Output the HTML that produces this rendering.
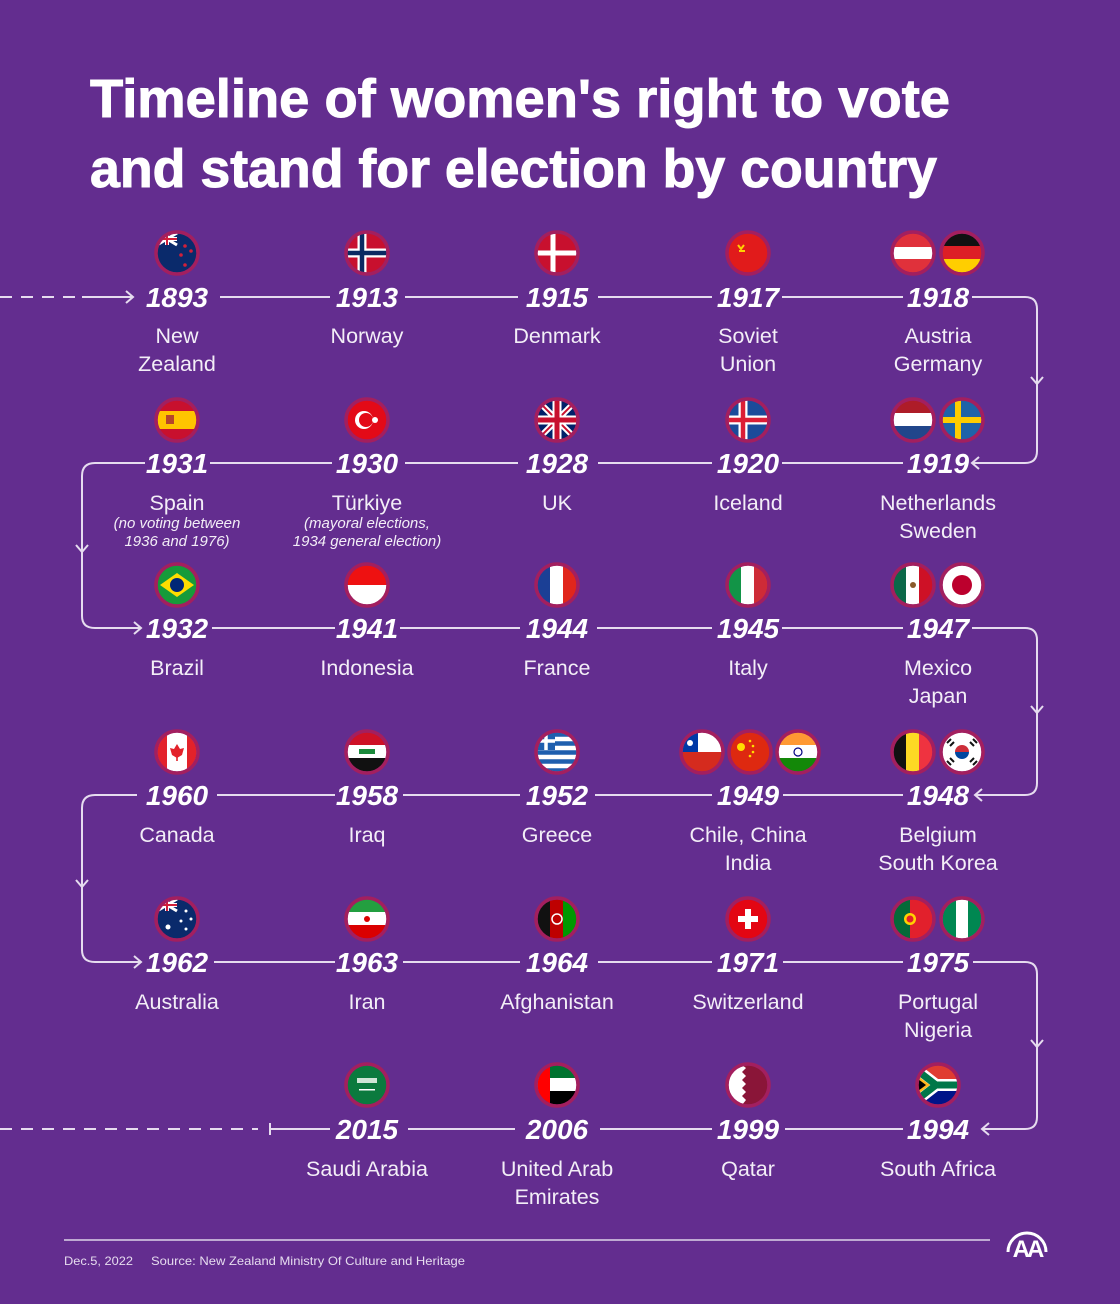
<!DOCTYPE html>
<html><head><meta charset="utf-8"><style>
html,body{margin:0;padding:0;background:#632d8f;}
svg{display:block}
.yr{font-family:"Liberation Sans",sans-serif;font-weight:bold;font-style:italic;font-size:28px;fill:#fff;text-anchor:middle}
.cn{font-family:"Liberation Sans",sans-serif;font-size:21.5px;fill:#f3eef7;text-anchor:middle}
.nt{font-family:"Liberation Sans",sans-serif;font-style:italic;font-size:15px;fill:#f3eef7;text-anchor:middle}
.ln{stroke:#e6dcef;stroke-width:2;fill:none}
.rg{fill:none;stroke:#a31f5f;stroke-width:3.5}
</style></head><body>
<svg width="1120" height="1304" viewBox="0 0 1120 1304" xmlns="http://www.w3.org/2000/svg">
<defs><clipPath id="c"><circle r="19.5" cx="0" cy="0"/></clipPath></defs>
<rect width="1120" height="1304" fill="#632d8f"/>
<text x="90" y="117" font-family="Liberation Sans,sans-serif" font-weight="bold" font-size="54" fill="#fff" stroke="#fff" stroke-width="1" textLength="860" lengthAdjust="spacingAndGlyphs">Timeline of women's right to vote</text>
<text x="90" y="187" font-family="Liberation Sans,sans-serif" font-weight="bold" font-size="54" fill="#fff" stroke="#fff" stroke-width="1" textLength="847" lengthAdjust="spacingAndGlyphs">and stand for election by country</text>

<g class="ln">
<line x1="0" y1="297" x2="75" y2="297" stroke-dasharray="12,9"/>
<path d="M82 297H133M126 291L133 297L126 303"/>
<path d="M220 297H330M405 297H518M598 297H712M782 297H903"/>
<path d="M972 297H1025Q1037 297 1037 309V451Q1037 463 1025 463H972M979 457L972 463L979 469M1031 377L1037 384L1043 377"/>
<path d="M782 463H903M598 463H712M405 463H518M210 463H332"/>
<path d="M145 463H95Q82 463 82 476V616Q82 628 95 628H141M134 622L141 628L134 634M76 545L82 552L88 545"/>
<path d="M212 628H335M400 628H520M597 628H712M782 628H903"/>
<path d="M972 628H1025Q1037 628 1037 640V783Q1037 795 1025 795H975M982 789L975 795L982 801M1031 706L1037 713L1043 706"/>
<path d="M217 795H335M403 795H520M595 795H712M783 795H903"/>
<path d="M137 795H95Q82 795 82 808V950Q82 962 95 962H141M134 956L141 962L134 968M76 880L82 887L88 880"/>
<path d="M214 962H335M403 962H520M598 962H712M783 962H903"/>
<path d="M973 962H1025Q1037 962 1037 974V1117Q1037 1129 1025 1129H982M989 1123L982 1129L989 1135M1031 1040L1037 1047L1043 1040"/>
<path d="M785 1129H903M600 1129H712M408 1129H515M270 1129H330M270 1123V1135"/>
<line x1="0" y1="1129" x2="258" y2="1129" stroke-dasharray="12,9"/>
</g>

<g class="yr">
<text x="177" y="307">1893</text><text x="367" y="307">1913</text><text x="557" y="307">1915</text><text x="748" y="307">1917</text><text x="938" y="307">1918</text>
<text x="177" y="473">1931</text><text x="367" y="473">1930</text><text x="557" y="473">1928</text><text x="748" y="473">1920</text><text x="938" y="473">1919</text>
<text x="177" y="638">1932</text><text x="367" y="638">1941</text><text x="557" y="638">1944</text><text x="748" y="638">1945</text><text x="938" y="638">1947</text>
<text x="177" y="805">1960</text><text x="367" y="805">1958</text><text x="557" y="805">1952</text><text x="748" y="805">1949</text><text x="938" y="805">1948</text>
<text x="177" y="972">1962</text><text x="367" y="972">1963</text><text x="557" y="972">1964</text><text x="748" y="972">1971</text><text x="938" y="972">1975</text>
<text x="367" y="1139">2015</text><text x="557" y="1139">2006</text><text x="748" y="1139">1999</text><text x="938" y="1139">1994</text>
</g>

<g class="cn">
<text x="177" y="343">New</text><text x="177" y="371">Zealand</text>
<text x="367" y="343">Norway</text><text x="557" y="343">Denmark</text>
<text x="748" y="343">Soviet</text><text x="748" y="371">Union</text>
<text x="938" y="343">Austria</text><text x="938" y="371">Germany</text>
<text x="177" y="510">Spain</text><text x="367" y="510">Türkiye</text><text x="557" y="510">UK</text><text x="748" y="510">Iceland</text>
<text x="938" y="510">Netherlands</text><text x="938" y="538">Sweden</text>
<text x="177" y="675">Brazil</text><text x="367" y="675">Indonesia</text><text x="557" y="675">France</text><text x="748" y="675">Italy</text>
<text x="938" y="675">Mexico</text><text x="938" y="703">Japan</text>
<text x="177" y="842">Canada</text><text x="367" y="842">Iraq</text><text x="557" y="842">Greece</text>
<text x="748" y="842">Chile, China</text><text x="748" y="870">India</text>
<text x="938" y="842">Belgium</text><text x="938" y="870">South Korea</text>
<text x="177" y="1009">Australia</text><text x="367" y="1009">Iran</text><text x="557" y="1009">Afghanistan</text><text x="748" y="1009">Switzerland</text>
<text x="938" y="1009">Portugal</text><text x="938" y="1037">Nigeria</text>
<text x="367" y="1176">Saudi Arabia</text><text x="557" y="1176">United Arab</text><text x="557" y="1204">Emirates</text>
<text x="748" y="1176">Qatar</text><text x="938" y="1176">South Africa</text>
</g>
<g class="nt">
<text x="177" y="528">(no voting between</text><text x="177" y="546">1936 and 1976)</text>
<text x="367" y="528">(mayoral elections,</text><text x="367" y="546">1934 general election)</text>
</g>

<g transform="translate(177,253)"><g clip-path="url(#c)"><rect x="-20" y="-20" width="40" height="40" fill="#0a2a6b"/><path d="M-20 -20L0 -8M0 -20L-20 -8" stroke="#fff" stroke-width="3"/><path d="M-10 -20V-8M-20 -14H0" stroke="#fff" stroke-width="4"/><path d="M-10 -20V-8M-20 -14H0" stroke="#d0203a" stroke-width="2"/><circle cx="8" cy="-7" r="1.8" fill="#d0203a"/><circle cx="14" cy="-2" r="1.8" fill="#d0203a"/><circle cx="4" cy="2" r="1.8" fill="#d0203a"/><circle cx="8" cy="12" r="1.8" fill="#d0203a"/></g><circle r="21" class="rg"/></g>
<g transform="translate(367,253)"><g clip-path="url(#c)"><rect x="-20" y="-20" width="40" height="40" fill="#c8102e"/><path d="M-5 -20V20M-20 0H20" stroke="#fff" stroke-width="9"/><path d="M-5 -20V20M-20 0H20" stroke="#0b2a62" stroke-width="4.5"/></g><circle r="21" class="rg"/></g>
<g transform="translate(557,253)"><g clip-path="url(#c)"><rect x="-20" y="-20" width="40" height="40" fill="#c8102e"/><path d="M-4 -20V20M-20 0H20" stroke="#fff" stroke-width="5"/></g><circle r="21" class="rg"/></g>
<g transform="translate(748,253)"><g clip-path="url(#c)"><rect x="-20" y="-20" width="40" height="40" fill="#e11b1b"/><path d="M-10 -8l3 4 3-4M-9 -2h6" stroke="#ffd100" stroke-width="2" fill="none"/></g><circle r="21" class="rg"/></g>
<g transform="translate(913,253)"><g clip-path="url(#c)"><rect x="-20" y="-20" width="40" height="40" fill="#e0313b"/><rect x="-20" y="-6" width="40" height="12" fill="#fff"/></g><circle r="21" class="rg"/></g>
<g transform="translate(962,253)"><g clip-path="url(#c)"><rect x="-20" y="-20" width="40" height="14" fill="#111"/><rect x="-20" y="-7" width="40" height="14" fill="#dd1f26"/><rect x="-20" y="6" width="40" height="14" fill="#ffce00"/></g><circle r="21" class="rg"/></g>
<g transform="translate(177,420)"><g clip-path="url(#c)"><rect x="-20" y="-20" width="40" height="40" fill="#c8102e"/><rect x="-20" y="-9" width="40" height="18" fill="#ffc400"/><rect x="-11" y="-5" width="8" height="9" fill="#b5452c"/></g><circle r="21" class="rg"/></g>
<g transform="translate(367,420)"><g clip-path="url(#c)"><rect x="-20" y="-20" width="40" height="40" fill="#e30a17"/><circle cx="-3" cy="0" r="9" fill="#fff"/><circle cx="-1" cy="0" r="7" fill="#e30a17"/><circle cx="8" cy="0" r="3" fill="#fff"/></g><circle r="21" class="rg"/></g>
<g transform="translate(557,420)"><g clip-path="url(#c)"><rect x="-20" y="-20" width="40" height="40" fill="#012169"/><path d="M-20 -20L20 20M20 -20L-20 20" stroke="#fff" stroke-width="6"/><path d="M-20 -20L20 20M20 -20L-20 20" stroke="#c8102e" stroke-width="2"/><path d="M0 -20V20M-20 0H20" stroke="#fff" stroke-width="9"/><path d="M0 -20V20M-20 0H20" stroke="#c8102e" stroke-width="5"/></g><circle r="21" class="rg"/></g>
<g transform="translate(748,420)"><g clip-path="url(#c)"><rect x="-20" y="-20" width="40" height="40" fill="#1b4b9a"/><path d="M-5 -20V20M-20 0H20" stroke="#fff" stroke-width="9"/><path d="M-5 -20V20M-20 0H20" stroke="#dc1e35" stroke-width="4.5"/></g><circle r="21" class="rg"/></g>
<g transform="translate(913,420)"><g clip-path="url(#c)"><rect x="-20" y="-20" width="40" height="14" fill="#ae1c28"/><rect x="-20" y="-7" width="40" height="14" fill="#fff"/><rect x="-20" y="6" width="40" height="14" fill="#21468b"/></g><circle r="21" class="rg"/></g>
<g transform="translate(962,420)"><g clip-path="url(#c)"><rect x="-20" y="-20" width="40" height="40" fill="#1f63a8"/><path d="M-4 -20V20M-20 0H20" stroke="#fecc00" stroke-width="6"/></g><circle r="21" class="rg"/></g>
<g transform="translate(177,585)"><g clip-path="url(#c)"><rect x="-20" y="-20" width="40" height="40" fill="#169b3a"/><path d="M-17 0L0 -12L17 0L0 12Z" fill="#fedd00"/><circle r="7" fill="#002776"/></g><circle r="21" class="rg"/></g>
<g transform="translate(367,585)"><g clip-path="url(#c)"><rect x="-20" y="-20" width="40" height="20" fill="#e11"/><rect x="-20" y="0" width="40" height="20" fill="#fff"/></g><circle r="21" class="rg"/></g>
<g transform="translate(557,585)"><g clip-path="url(#c)"><rect x="-20" y="-20" width="14" height="40" fill="#1b3f95"/><rect x="-7" y="-20" width="14" height="40" fill="#fff"/><rect x="6" y="-20" width="14" height="40" fill="#e1261c"/></g><circle r="21" class="rg"/></g>
<g transform="translate(748,585)"><g clip-path="url(#c)"><rect x="-20" y="-20" width="14" height="40" fill="#129447"/><rect x="-7" y="-20" width="14" height="40" fill="#fff"/><rect x="6" y="-20" width="14" height="40" fill="#ce2b37"/></g><circle r="21" class="rg"/></g>
<g transform="translate(913,585)"><g clip-path="url(#c)"><rect x="-20" y="-20" width="14" height="40" fill="#0b6848"/><rect x="-7" y="-20" width="14" height="40" fill="#fff"/><rect x="6" y="-20" width="14" height="40" fill="#ce1126"/><circle r="3" fill="#8a5a2b"/></g><circle r="21" class="rg"/></g>
<g transform="translate(962,585)"><g clip-path="url(#c)"><rect x="-20" y="-20" width="40" height="40" fill="#fff"/><circle r="10" fill="#bc002d"/></g><circle r="21" class="rg"/></g>
<g transform="translate(177,752)"><g clip-path="url(#c)"><rect x="-20" y="-20" width="40" height="40" fill="#fff"/><rect x="-20" y="-20" width="10" height="40" fill="#e3222a"/><rect x="10" y="-20" width="10" height="40" fill="#e3222a"/><path d="M0 -8L3 -3L7 -4L5 3L0 6L-5 3L-7 -4L-3 -3Z" fill="#e3222a"/><rect x="-0.8" y="5" width="1.6" height="4" fill="#e3222a"/></g><circle r="21" class="rg"/></g>
<g transform="translate(367,752)"><g clip-path="url(#c)"><rect x="-20" y="-20" width="40" height="14" fill="#ce1126"/><rect x="-20" y="-7" width="40" height="14" fill="#fff"/><rect x="-20" y="6" width="40" height="14" fill="#111"/><rect x="-8" y="-3" width="16" height="5" fill="#1b8a3c"/></g><circle r="21" class="rg"/></g>
<g transform="translate(557,752)"><g clip-path="url(#c)"><rect x="-20" y="-20" width="40" height="40" fill="#fff"/><path d="M-20 -17.5H20M-20 -8.5H20M-20 0.5H20M-20 9.5H20M-20 18.5H20" stroke="#1f5fae" stroke-width="4.5"/><rect x="-20" y="-20" width="18" height="18" fill="#1f5fae"/><path d="M-11 -20V-2M-20 -11H-2" stroke="#fff" stroke-width="3.5"/></g><circle r="21" class="rg"/></g>
<g transform="translate(702,752)"><g clip-path="url(#c)"><rect x="-20" y="-20" width="40" height="20" fill="#fff"/><rect x="-20" y="0" width="40" height="20" fill="#d52b1e"/><rect x="-20" y="-20" width="16" height="20" fill="#0039a6"/><circle cx="-12" cy="-9" r="3" fill="#fff"/></g><circle r="21" class="rg"/></g>
<g transform="translate(750,752)"><g clip-path="url(#c)"><rect x="-20" y="-20" width="40" height="40" fill="#de2910"/><circle cx="-9" cy="-5" r="4" fill="#ffde00"/><circle cx="0" cy="-11" r="1.3" fill="#ffde00"/><circle cx="3" cy="-6" r="1.3" fill="#ffde00"/><circle cx="3" cy="0" r="1.3" fill="#ffde00"/><circle cx="0" cy="4" r="1.3" fill="#ffde00"/></g><circle r="21" class="rg"/></g>
<g transform="translate(798,752)"><g clip-path="url(#c)"><rect x="-20" y="-20" width="40" height="14" fill="#ff9933"/><rect x="-20" y="-7" width="40" height="14" fill="#fff"/><rect x="-20" y="6" width="40" height="14" fill="#138808"/><circle r="4" fill="none" stroke="#000080" stroke-width="1.2"/></g><circle r="21" class="rg"/></g>
<g transform="translate(913,752)"><g clip-path="url(#c)"><rect x="-20" y="-20" width="14" height="40" fill="#111"/><rect x="-7" y="-20" width="14" height="40" fill="#fdda24"/><rect x="6" y="-20" width="14" height="40" fill="#ef3340"/></g><circle r="21" class="rg"/></g>
<g transform="translate(962,752)"><g clip-path="url(#c)"><rect x="-20" y="-20" width="40" height="40" fill="#fff"/><path d="M-7 0A7 7 0 0 1 7 0Z" fill="#cd2e3a"/><path d="M-7 0A7 7 0 0 0 7 0Z" fill="#0047a0"/><path d="M-15 -9l4 -4M-12 -6l4 -4M11 -13l4 4M8 -10l4 4M-15 9l4 4M-12 6l4 4M11 13l4 -4M8 10l4 -4" stroke="#111" stroke-width="2"/></g><circle r="21" class="rg"/></g>
<g transform="translate(177,919)"><g clip-path="url(#c)"><rect x="-20" y="-20" width="40" height="40" fill="#0a2a6b"/><path d="M-20 -20L0 -8M0 -20L-20 -8" stroke="#fff" stroke-width="3"/><path d="M-10 -20V-8M-20 -14H0" stroke="#fff" stroke-width="4"/><path d="M-10 -20V-8M-20 -14H0" stroke="#d0203a" stroke-width="2"/><circle cx="-9" cy="8" r="2.5" fill="#fff"/><circle cx="9" cy="-8" r="1.5" fill="#fff"/><circle cx="14" cy="0" r="1.5" fill="#fff"/><circle cx="9" cy="10" r="1.5" fill="#fff"/><circle cx="4" cy="2" r="1.5" fill="#fff"/></g><circle r="21" class="rg"/></g>
<g transform="translate(367,919)"><g clip-path="url(#c)"><rect x="-20" y="-20" width="40" height="14" fill="#239f40"/><rect x="-20" y="-7" width="40" height="14" fill="#fff"/><rect x="-20" y="6" width="40" height="14" fill="#da0000"/><circle r="3" fill="#da0000"/></g><circle r="21" class="rg"/></g>
<g transform="translate(557,919)"><g clip-path="url(#c)"><rect x="-20" y="-20" width="14" height="40" fill="#111"/><rect x="-7" y="-20" width="14" height="40" fill="#be0000"/><rect x="6" y="-20" width="14" height="40" fill="#009900"/><circle r="5" fill="none" stroke="#fff" stroke-width="1.5"/></g><circle r="21" class="rg"/></g>
<g transform="translate(748,919)"><g clip-path="url(#c)"><rect x="-20" y="-20" width="40" height="40" fill="#e30613"/><path d="M0 -10V10M-10 0H10" stroke="#fff" stroke-width="6"/></g><circle r="21" class="rg"/></g>
<g transform="translate(913,919)"><g clip-path="url(#c)"><rect x="-20" y="-20" width="40" height="40" fill="#e2202c"/><rect x="-20" y="-20" width="17" height="40" fill="#046a38"/><circle cx="-3" cy="0" r="6" fill="#ffd200"/><circle cx="-3" cy="0" r="3.5" fill="#e2202c"/></g><circle r="21" class="rg"/></g>
<g transform="translate(962,919)"><g clip-path="url(#c)"><rect x="-20" y="-20" width="40" height="40" fill="#fff"/><rect x="-20" y="-20" width="14" height="40" fill="#008751"/><rect x="6" y="-20" width="14" height="40" fill="#008751"/></g><circle r="21" class="rg"/></g>
<g transform="translate(367,1085)"><g clip-path="url(#c)"><rect x="-20" y="-20" width="40" height="40" fill="#0b7a3e"/><rect x="-10" y="-7" width="20" height="5" fill="#cfe5d6"/><rect x="-8" y="4" width="16" height="1.5" fill="#fff"/></g><circle r="21" class="rg"/></g>
<g transform="translate(557,1085)"><g clip-path="url(#c)"><rect x="-20" y="-20" width="40" height="14" fill="#00732f"/><rect x="-20" y="-7" width="40" height="14" fill="#fff"/><rect x="-20" y="6" width="40" height="14" fill="#000"/><rect x="-20" y="-20" width="13" height="40" fill="#ff0000"/></g><circle r="21" class="rg"/></g>
<g transform="translate(748,1085)"><g clip-path="url(#c)"><rect x="-20" y="-20" width="40" height="40" fill="#8a1538"/><path d="M-20 -20H-6L-2 -17L-6 -13L-2 -9L-6 -5L-2 -1L-6 3L-2 7L-6 11L-2 15L-6 20H-20Z" fill="#fff"/></g><circle r="21" class="rg"/></g>
<g transform="translate(938,1085)"><g clip-path="url(#c)"><rect x="-20" y="-20" width="40" height="20" fill="#e03c31"/><rect x="-20" y="0" width="40" height="20" fill="#001489"/><path d="M-20 -14L-2 0L-20 14M-2 0H20" stroke="#fff" stroke-width="12" fill="none"/><path d="M-20 -14L-2 0L-20 14M-2 0H20" stroke="#007749" stroke-width="7" fill="none"/><path d="M-20 -9L-8 0L-20 9Z" fill="#ffb81c"/><path d="M-20 -6L-12 0L-20 6Z" fill="#000"/></g><circle r="21" class="rg"/></g>

<line x1="64" y1="1240" x2="990" y2="1240" stroke="#ddd3e8" stroke-width="1.5"/>
<text x="64" y="1265" font-family="Liberation Sans,sans-serif" font-size="12" fill="#e6dcef" textLength="69" lengthAdjust="spacingAndGlyphs">Dec.5, 2022</text>
<text x="151" y="1265" font-family="Liberation Sans,sans-serif" font-size="12" fill="#e6dcef" textLength="314" lengthAdjust="spacingAndGlyphs">Source: New Zealand Ministry Of Culture and Heritage</text>
<path d="M1008 1252A19 19 0 1 1 1046 1252" stroke="#fff" stroke-width="3" fill="none"/>
<text x="1027" y="1257" font-family="Liberation Sans,sans-serif" font-weight="bold" font-size="24" fill="#fff" text-anchor="middle" letter-spacing="-3">AA</text>
</svg>
</body></html>
